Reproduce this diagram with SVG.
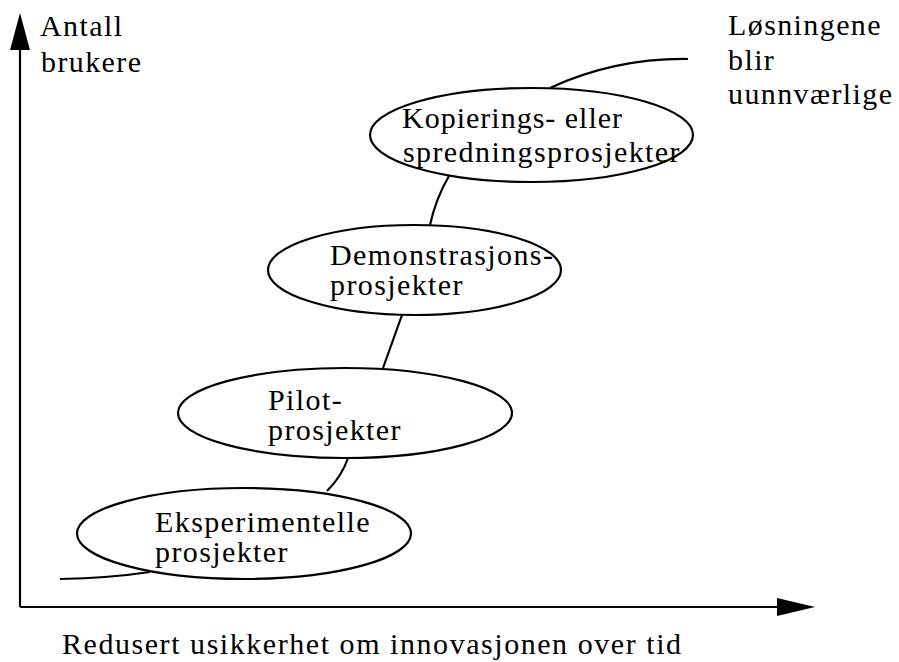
<svg xmlns="http://www.w3.org/2000/svg" width="899" height="662" viewBox="0 0 899 662">
<style>
text{font-family:"Liberation Serif","Times New Roman",serif;font-size:30px;letter-spacing:1.4px;fill:#000}
.ax{stroke:#000;stroke-width:2.2;fill:none}
.el{stroke:#000;stroke-width:2.2;fill:#fff}
.cn{stroke:#000;stroke-width:2.2;fill:none}
</style>
<rect width="899" height="662" fill="#fff"/>
<g id="axes">
<path class="ax" d="M20,607 V45 M20,607 H780"/>
<polygon points="20,13 10,50 30,50" fill="#000"/>
<polygon points="815,607 777,598 777,616" fill="#000"/>
<text x="40" y="36">Antall</text>
<text x="41" y="72">brukere</text>
<text x="62" y="654" style="letter-spacing:1.55px">Redusert usikkerhet om innovasjonen over tid</text>
</g>
<g id="connectors">
<path class="cn" d="M60,579 Q110,578 150,572"/>
<path class="cn" d="M327,491 Q342,476 348,458"/>
<path class="cn" d="M383,368 L402,315"/>
<path class="cn" d="M430,225 Q436,198 449,176"/>
<path class="cn" d="M550,88 Q615,58 688,59"/>
</g>
<g id="n1">
<ellipse class="el" cx="244" cy="533.5" rx="167" ry="45.5"/>
<text x="155" y="532">Eksperimentelle</text>
<text x="155" y="562">prosjekter</text>
</g>
<g id="n2">
<ellipse class="el" cx="345" cy="413" rx="167" ry="45"/>
<text x="268" y="410">Pilot-</text>
<text x="268" y="440">prosjekter</text>
</g>
<g id="n3">
<ellipse class="el" cx="414.5" cy="270" rx="146.5" ry="45"/>
<text x="330" y="265">Demonstrasjons-</text>
<text x="330" y="295">prosjekter</text>
</g>
<g id="n4">
<ellipse class="el" cx="531.5" cy="135" rx="161.5" ry="47"/>
<text x="402" y="128" style="letter-spacing:1px">Kopierings- eller</text>
<text x="403" y="162">spredningsprosjekter</text>
</g>
<g id="n5">
<text x="728" y="35">Løsningene</text>
<text x="728" y="70">blir</text>
<text x="728" y="104">uunnværlige</text>
</g>
</svg>
